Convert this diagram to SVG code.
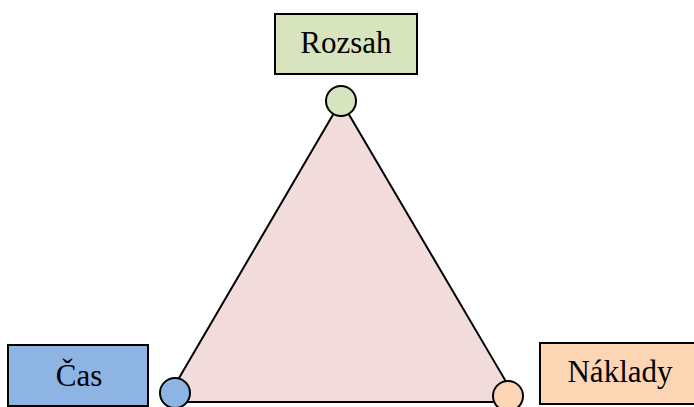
<svg xmlns="http://www.w3.org/2000/svg" width="694" height="407" viewBox="0 0 694 407">
  <style>
    .box { stroke: #000; stroke-width: 2; }
    .dot { stroke: #000; stroke-width: 2; }
    .lbl { font-family: "Liberation Serif", "Times New Roman", serif; font-size: 31px; fill: #000; text-anchor: middle; }
    .scope { fill: #D7E4BD; }
    .time { fill: #8EB4E3; }
    .cost { fill: #FCD5B5; }
  </style>
  <rect width="694" height="407" fill="#fff"/>

  <!-- triangle body -->
  <g id="connectors">
    <polygon points="341,101 165,402 518,402" fill="#F2DCDB" stroke="#000" stroke-width="2" stroke-linejoin="miter"/>
  </g>

  <g id="rozsah">
    <rect class="box scope" x="275" y="14" width="142" height="60"/>
    <text class="lbl" x="346" y="53">Rozsah</text>
    <circle class="dot scope" cx="341" cy="101" r="15"/>
  </g>

  <g id="cas">
    <rect class="box time" x="8" y="345" width="140" height="61"/>
    <text class="lbl" x="79" y="386">Čas</text>
    <circle class="dot time" cx="175" cy="393" r="15"/>
  </g>

  <g id="naklady">
    <rect class="box cost" x="540" y="343" width="162" height="61"/>
    <text class="lbl" x="620" y="382">Náklady</text>
    <circle class="dot cost" cx="508" cy="396" r="15"/>
  </g>
</svg>
